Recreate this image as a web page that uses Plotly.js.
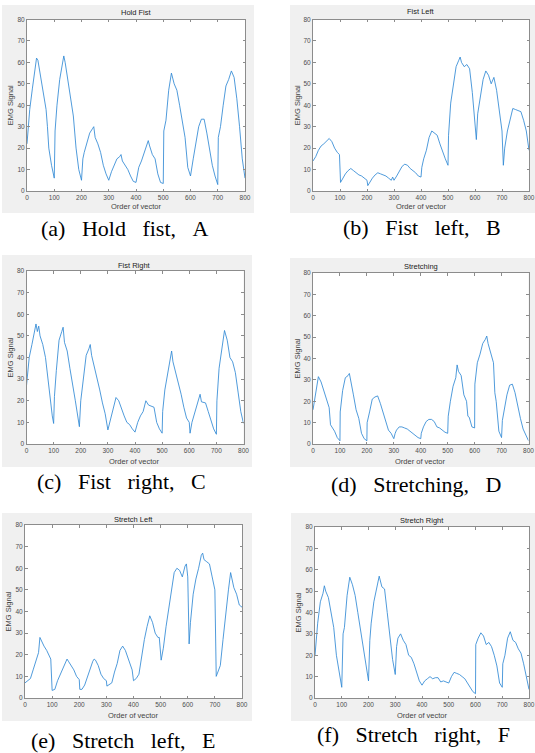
<!DOCTYPE html>
<html><head><meta charset="utf-8">
<script src="https://cdn.plot.ly/plotly-3.0.1.min.js"></script>
<style>html,body{margin:0;padding:0;background:#fff}#chart{width:535px;height:753px}</style>
</head><body><div id="chart"></div>
<script>
// ---------- data ----------
const panelTitles = ['Hold Fist','Fist Left','Fist Right','Stretching','Stretch Left','Stretch Right'];
const SP = '\u00a0\u00a0\u00a0';
const captions = ['(a)'+SP+'Hold'+SP+'fist,'+SP+'A','(b)'+SP+'Fist'+SP+'left,'+SP+'B','(c)'+SP+'Fist'+SP+'right,'+SP+'C','(d)'+SP+'Stretching,'+SP+'D','(e)'+SP+'Stretch'+SP+'left,'+SP+'E','(f)'+SP+'Stretch'+SP+'right,'+SP+'F'];
const xLabel = 'Order of vector';
const yLabel = 'EMG Signal';

const xA = [0,10,20,30,35,40,45,50,60,70,75,80,90,100,103,110,120,130,135,140,150,160,170,180,190,200,205,210,220,230,240,245,250,260,270,280,290,300,310,320,330,340,345,350,360,370,380,390,400,410,420,430,440,445,450,460,470,480,490,500,502,510,520,530,540,550,560,570,580,590,600,610,620,630,640,650,660,670,680,690,700,702,710,720,730,740,750,760,770,780,790,800];
const yA = [22,38,48,58,62,61,57,52,44,38,30,20,12,6,28,40,52,60,63,60,52,45,35,20,10,5,15,18,22,27,29,30,25,22,18,12,8,5,9,12,15,16,17,14,12,10,7,4.5,4,11,14,18,22,23.5,21,17,15,8,4,3.5,28,33,47,55,50,47,40,32,25,11,7,15,23,30,33.5,33.5,27,20,12,7,3,25,30,40,49,52,56,53,43,30,15,6];

const xB = [0,10,20,30,40,50,60,70,80,90,98,102,110,120,130,140,150,160,170,180,190,200,203,210,220,230,240,250,260,270,280,290,295,300,310,320,330,340,350,360,370,380,390,400,403,410,420,430,440,450,460,470,480,490,500,502,510,520,530,540,545,550,560,570,580,590,600,605,610,620,630,640,650,660,670,680,690,700,705,710,720,730,740,750,760,770,780,790,800];
const yB = [14,16,19,21,22,23.5,24.5,23,20,18,17,4,6,8,9.5,10.5,9.5,8.5,7.5,7,6,5,2.5,4,6,7.5,8.5,8,7.5,7,6,5,6.5,5,7,9,11.5,12.5,12,10.5,9.5,8.5,7,6.5,11,15,19,25,28,27,26,22,18,15,12,26,41,50,58,61,62.5,60,58,59,57,46,32,24,36,44,52,56,54,50,53,47,36,28,12,20,28,33,38.5,38,37.5,37,33,28,19];

const xC = [0,5,10,20,30,35,40,45,50,60,70,80,90,95,100,103,110,120,130,135,140,150,160,170,180,190,195,200,210,220,230,235,240,250,260,270,280,290,300,310,320,330,340,350,360,370,380,390,400,410,420,430,440,450,460,470,480,490,500,502,510,520,530,535,540,550,560,570,580,590,600,603,610,620,630,640,645,660,670,680,690,700,702,710,720,730,740,750,760,770,780,790,800];
const yC = [27,35,40,46,52,55.5,52,54.5,50,46,40,28,16,13,9.5,22,34,48,52,54,47,43,35,28,20,12,8,20,30,41,44,46,41,36,30,25,19,14,6.5,12,17,21.5,20,16,13,10,9,7,5.5,10,13,15,20,18,17.5,17,10,7,5,15,25,32,40,43,38,33,29,23,17,12,10,5,10,14,19,23,19.5,19,15,11,7,4.5,20,35,43,52.5,48,40,38,33,24,15,9.5];

const xD = [0,10,20,30,40,50,60,65,70,80,90,100,101,110,120,130,135,140,150,160,170,180,190,200,201,210,220,230,240,250,260,270,280,290,300,305,310,320,330,340,350,360,370,380,390,400,402,410,420,430,440,450,460,470,480,490,500,502,510,520,530,535,540,550,560,570,575,580,590,600,601,610,620,630,640,645,650,660,670,675,680,690,700,703,710,720,730,740,750,760,770,780,790,800];
const yD = [16,24,31.5,29,25,21,17,9,8,6,3,1.5,15,25,31,32,33,29,23,16,12,5,2.5,1.5,10,15,21,22,22.5,19,15,10,6.5,5,2.5,5,6.5,8,8,7.5,7,6,5,4,3,2.5,5,8,10.5,11.5,11.5,10.5,8,7.5,6.5,5.5,5,13,20,27,31,37,34,32,23,20,13,12.5,8,7.5,28,38,42,47,49,50.5,47,42,38,24,20,6,3,11,16,23,27.5,28,24,17,12,7,4,1.5];

const xE = [0,10,20,30,40,50,55,60,70,80,90,95,100,110,120,130,140,150,155,160,170,180,190,200,202,210,220,230,240,250,255,260,270,280,290,300,302,310,320,330,340,350,360,370,380,390,395,400,410,420,430,440,450,460,470,480,490,495,502,510,520,530,540,550,560,570,580,590,595,600,605,610,620,630,640,650,655,660,670,680,690,700,705,710,720,730,740,750,758,765,770,780,790,800];
const yE = [7,8,9,13,17,21,28,26.5,24,22,19,18,3.5,4,8,11,14,17,18,17,15,13,10,8.5,4,4,6,10,14,17,18,17.5,15,11,9,8,5.5,6,7,12,16,22,24,22,18,14,13,8,9,11,20,27,33,38,35,30,28,28,17.5,23,33,42,51,58,60,59,56,61,62,56,25,35,48,55,60,66,67,64,63,62,56,50,10,12,15,27,40,50,58,53,51,48,43,42];

const xF = [0,10,20,30,35,40,50,60,70,80,90,100,105,110,120,130,140,150,160,170,180,190,200,205,210,220,230,240,250,260,270,280,290,300,305,310,320,330,340,350,360,370,380,390,400,410,420,430,440,450,460,470,480,490,500,510,520,530,540,550,560,570,580,590,600,601,610,620,630,640,650,660,670,680,690,700,702,710,720,730,740,750,760,770,780,790,800];
const yF = [20,35,45,49,52.5,50,47,40,33,20,13,5,30,33,48,56.5,53,48,40,32,25,15,8,27,35,45,52,57,52,51,40,30,18,11,24,28,30,27,25,20,19,16,12,8,6,8,9,10,9,9.5,9.5,7.5,8,7.5,7,10,12,11.5,11,10,9,7,5,3,2,25,28,30.5,29,25,26,24,20,15,7,5,16,20,28,31,27,26,23,21,16,10,4];

const xSeries = [xA,xB,xC,xD,xE,xF];
const ySeries = [yA,yB,yC,yD,yE,yF];

// ---------- layout geometry (pixels) ----------
const W = 535, H = 753;
const fx = p => p / W;
const fy = p => 1 - p / H;
const geom = [
  {px:[27,245], py:[19.5,191], bg:[2,254,5,213], cap:[125,229], ty:13, yl:10},
  {px:[313,529], py:[19.5,191], bg:[290,536,5,213], cap:[422,228], ty:12, yl:297},
  {px:[26.5,243.5], py:[271,444], bg:[2,252,255,467], cap:[122,481], ty:265, yl:10},
  {px:[313,528.5], py:[273,444], bg:[290,536,258,467], cap:[416,484], ty:266, yl:297},
  {px:[25,242], py:[525,698], bg:[2,252,513,721], cap:[123,740], ty:519, yl:8},
  {px:[315,529], py:[527,698], bg:[291,536,513,721], cap:[413,734], ty:520, yl:298}
];

const traces = [];
const layout = {
  width: W, height: H,
  margin: {l:0, r:0, t:0, b:0},
  paper_bgcolor: '#ffffff',
  plot_bgcolor: 'rgba(0,0,0,0)',
  showlegend: false,
  hovermode: false,
  shapes: [],
  annotations: []
};
const axFont = {family: 'Liberation Sans, Arial, sans-serif', size: 6.5, color: '#4d4d4d'};
const lblFont = {family: 'Liberation Sans, Arial, sans-serif', size: 7.5, color: '#444'};

geom.forEach((g, i) => {
  const n = i + 1;
  const xa = n === 1 ? 'xaxis' : 'xaxis' + n;
  const ya = n === 1 ? 'yaxis' : 'yaxis' + n;
  traces.push({
    type: 'scatter', mode: 'lines',
    x: xSeries[i], y: ySeries[i],
    xaxis: 'x' + (n === 1 ? '' : n), yaxis: 'y' + (n === 1 ? '' : n),
    line: {color: '#3089d4', width: 0.85}
  });
  const common = {
    showgrid: false, zeroline: false, showline: true, mirror: 'ticks',
    linecolor: '#8c8c8c', linewidth: 1, ticks: 'inside', ticklen: 2.5,
    tickcolor: '#8c8c8c', tickfont: axFont, fixedrange: true,
    ticklabeloverflow: 'allow'
  };
  layout[xa] = Object.assign({}, common, {
    domain: [fx(g.px[0]), fx(g.px[1])], range: [0, 800], dtick: 100, tick0: 0,
    anchor: 'y' + (n === 1 ? '' : n)
  });
  layout[ya] = Object.assign({}, common, {
    domain: [fy(g.py[1]), fy(g.py[0])], range: [0, 80], dtick: 10, tick0: 0,
    anchor: 'x' + (n === 1 ? '' : n)
  });
  layout.shapes.push({type:'rect', xref:'paper', yref:'paper', layer:'below',
    x0: fx(g.bg[0]), x1: fx(g.bg[1]), y0: fy(g.bg[3]), y1: fy(g.bg[2]),
    fillcolor:'#f0f0f0', line:{width:0}});
  layout.shapes.push({type:'rect', xref:'paper', yref:'paper', layer:'below',
    x0: fx(g.px[0]), x1: fx(g.px[1]), y0: fy(g.py[1]), y1: fy(g.py[0]),
    fillcolor:'#ffffff', line:{width:0}});
  const cx = (g.px[0] + g.px[1]) / 2;
  const cy = (g.py[0] + g.py[1]) / 2;
  layout.annotations.push({xref:'paper', yref:'paper', x: fx(cx), y: fy(g.ty),
    text: panelTitles[i], showarrow:false, xanchor:'center', yanchor:'middle',
    font:{family:'Liberation Sans, Arial, sans-serif', size:7.5, color:'#222'}});
  layout.annotations.push({xref:'paper', yref:'paper', x: fx(cx), y: fy(g.bg[3] - 6),
    text: xLabel, showarrow:false, xanchor:'center', yanchor:'middle', font: lblFont});
  layout.annotations.push({xref:'paper', yref:'paper', x: fx(g.yl), y: fy(cy),
    text: yLabel, showarrow:false, xanchor:'center', yanchor:'middle', textangle:-90, font: lblFont});
  layout.annotations.push({xref:'paper', yref:'paper', x: fx(g.cap[0]), y: fy(g.cap[1]),
    text: captions[i], showarrow:false, xanchor:'center', yanchor:'middle',
    font:{family:'Liberation Serif, Times New Roman, serif', size:22, color:'#000'}});
});

Plotly.newPlot('chart', traces, layout, {staticPlot: true, displayModeBar: false});
</script>
</body></html>
